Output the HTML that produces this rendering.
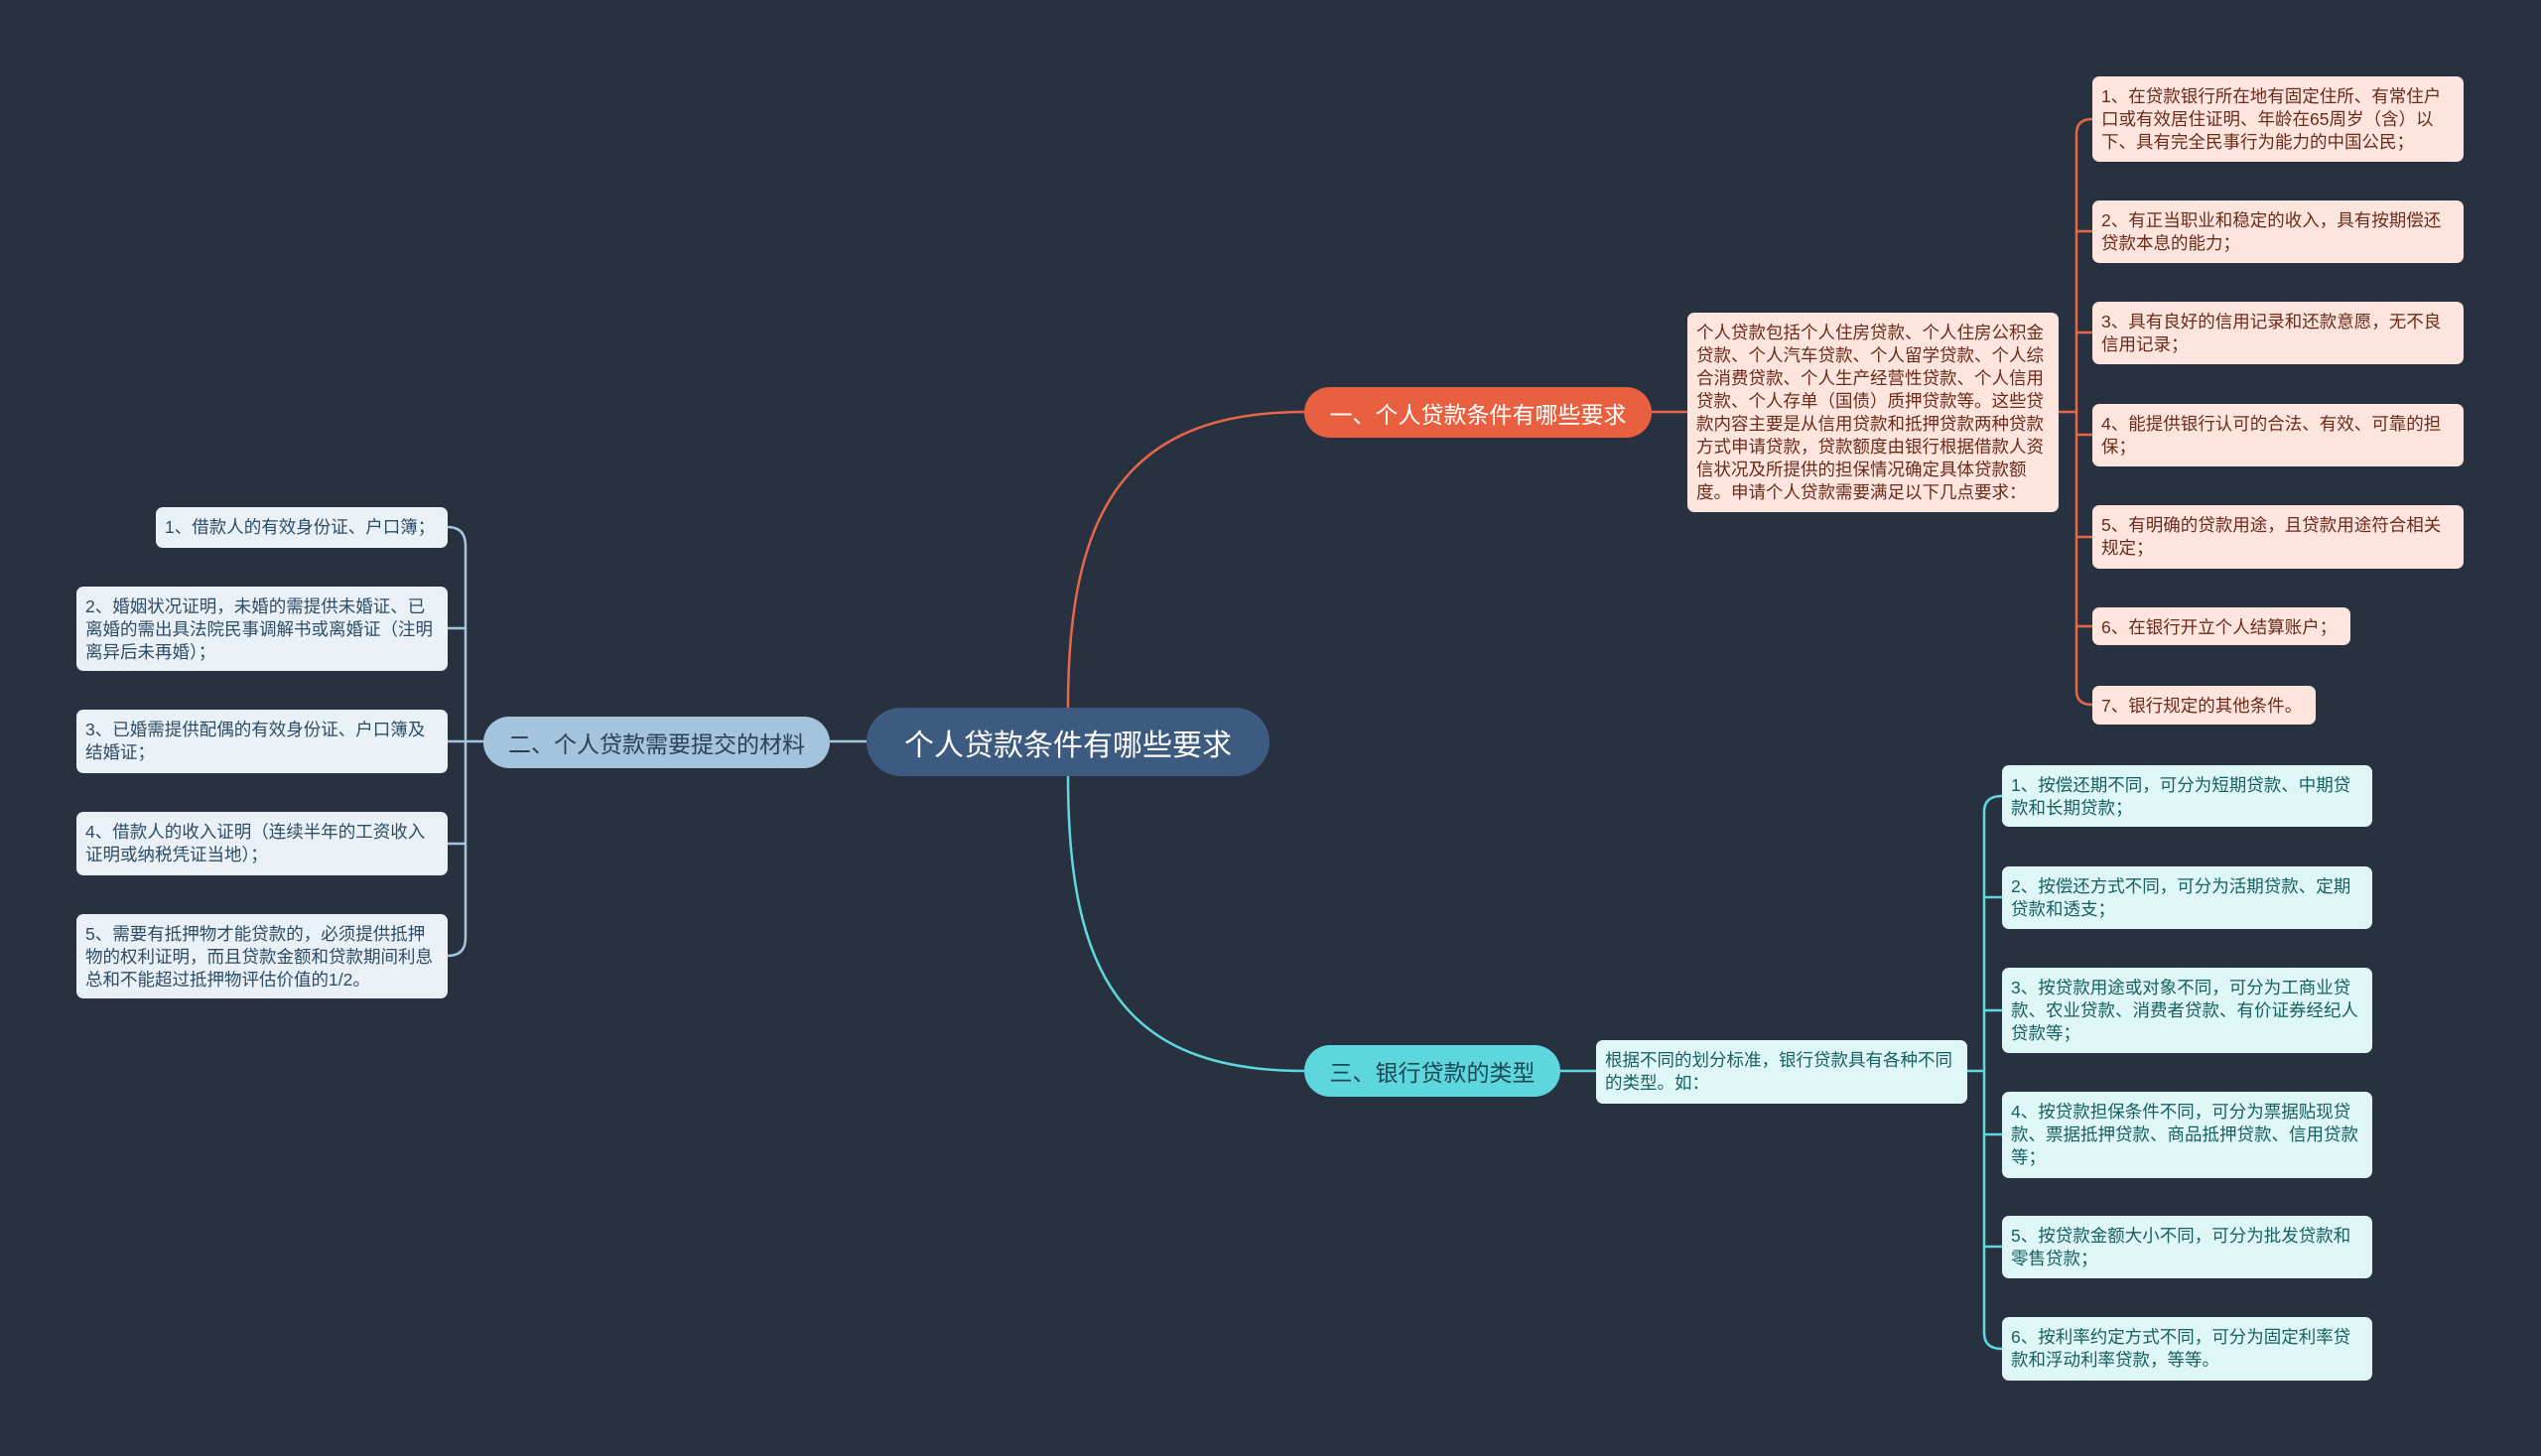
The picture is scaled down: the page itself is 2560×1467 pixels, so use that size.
<!DOCTYPE html>
<html><head><meta charset="utf-8"><style>
body{margin:0;width:2560px;height:1467px;background:#283140;position:relative;overflow:hidden;font-family:"Liberation Sans","Noto Sans CJK SC",sans-serif}
.b{position:absolute;box-sizing:border-box;border-radius:7px;font-size:17.5px;line-height:23px;padding:9px 9px}
.p{background:#fde5dd;color:#6b2a1a}
.l{background:#e9f1f6;color:#2e4c66}
.c{background:#dff6f7;color:#17605f}
.n{position:absolute;box-sizing:border-box;border-radius:26px;display:flex;align-items:center;justify-content:center;font-size:23px}
svg{position:absolute;left:0;top:0}
</style></head><body>
<svg width="2560" height="1467" fill="none" stroke-width="2.5">
<path d="M1076 713 C1076 520 1130 415 1314 415" stroke="#e8674a"/>
<path d="M1076 782 C1076 980 1130 1079 1314 1079" stroke="#5fd8df"/>
<path d="M836 747 L873 747" stroke="#a6c6de"/>
<path d="M1664 415 L1700 415 M2074 415 L2092 415" stroke="#e8674a"/>
<path d="M2108 120 Q2092 120 2092 135 L2092 696 Q2092 710 2108 710 M2092 233 Q2092 233 2108 233 M2092 335 L2108 335 M2092 438 L2108 438 M2092 541 L2108 541 M2092 631 L2108 631" stroke="#e8674a"/>
<path d="M487 747 L469 747 M451 531 Q469 531 469 550 L469 945 Q469 963 451 963 M451 633 L469 633 M451 747 L469 747 M451 850 L469 850" stroke="#a6c6de"/>
<path d="M1572 1079 L1608 1079 M1982 1079 L1999 1079" stroke="#5fd8df"/>
<path d="M2017 802 Q1999 802 1999 818 L1999 1343 Q1999 1359 2017 1359 M1999 904 L2017 904 M1999 1018 L2017 1018 M1999 1143 L2017 1143 M1999 1256 L2017 1256" stroke="#5fd8df"/>
</svg>
<div class="n" style="left:873px;top:713px;width:406px;height:69px;background:#3d5a80;color:#fff;border-radius:35px;font-size:30px">个人贷款条件有哪些要求</div>
<div class="n" style="left:1314px;top:390px;width:350px;height:51px;background:#e8603f;color:#fff">一、个人贷款条件有哪些要求</div>
<div class="n" style="left:487px;top:722px;width:349px;height:52px;background:#a3c4dc;color:#2a3f55">二、个人贷款需要提交的材料</div>
<div class="n" style="left:1314px;top:1053px;width:258px;height:52px;background:#5dd6dd;color:#1b4a55">三、银行贷款的类型</div>

<div class="b p" style="left:1700px;top:315px;width:374px;height:201px">个人贷款包括个人住房贷款、个人住房公积金贷款、个人汽车贷款、个人留学贷款、个人综合消费贷款、个人生产经营性贷款、个人信用贷款、个人存单（国债）质押贷款等。这些贷款内容主要是从信用贷款和抵押贷款两种贷款方式申请贷款，贷款额度由银行根据借款人资信状况及所提供的担保情况确定具体贷款额度。申请个人贷款需要满足以下几点要求：</div>
<div class="b p" style="left:2108px;top:77px;width:374px;height:86px">1、在贷款银行所在地有固定住所、有常住户口或有效居住证明、年龄在65周岁（含）以下、具有完全民事行为能力的中国公民；</div>
<div class="b p" style="left:2108px;top:202px;width:374px;height:63px">2、有正当职业和稳定的收入，具有按期偿还贷款本息的能力；</div>
<div class="b p" style="left:2108px;top:304px;width:374px;height:63px">3、具有良好的信用记录和还款意愿，无不良信用记录；</div>
<div class="b p" style="left:2108px;top:407px;width:374px;height:63px">4、能提供银行认可的合法、有效、可靠的担保；</div>
<div class="b p" style="left:2108px;top:509px;width:374px;height:64px">5、有明确的贷款用途，且贷款用途符合相关规定；</div>
<div class="b p" style="left:2108px;top:612px;width:260px;height:38px">6、在银行开立个人结算账户；</div>
<div class="b p" style="left:2108px;top:691px;width:225px;height:39px">7、银行规定的其他条件。</div>

<div class="b l" style="left:157px;top:511px;width:294px;height:41px">1、借款人的有效身份证、户口簿；</div>
<div class="b l" style="left:77px;top:591px;width:374px;height:85px">2、婚姻状况证明，未婚的需提供未婚证、已离婚的需出具法院民事调解书或离婚证（注明离异后未再婚）；</div>
<div class="b l" style="left:77px;top:715px;width:374px;height:64px">3、已婚需提供配偶的有效身份证、户口簿及结婚证；</div>
<div class="b l" style="left:77px;top:818px;width:374px;height:64px">4、借款人的收入证明（连续半年的工资收入证明或纳税凭证当地）；</div>
<div class="b l" style="left:77px;top:921px;width:374px;height:85px">5、需要有抵押物才能贷款的，必须提供抵押物的权利证明，而且贷款金额和贷款期间利息总和不能超过抵押物评估价值的1/2。</div>

<div class="b c" style="left:1608px;top:1048px;width:374px;height:64px">根据不同的划分标准，银行贷款具有各种不同的类型。如：</div>
<div class="b c" style="left:2017px;top:771px;width:373px;height:62px">1、按偿还期不同，可分为短期贷款、中期贷款和长期贷款；</div>
<div class="b c" style="left:2017px;top:873px;width:373px;height:63px">2、按偿还方式不同，可分为活期贷款、定期贷款和透支；</div>
<div class="b c" style="left:2017px;top:975px;width:373px;height:86px">3、按贷款用途或对象不同，可分为工商业贷款、农业贷款、消费者贷款、有价证券经纪人贷款等；</div>
<div class="b c" style="left:2017px;top:1100px;width:373px;height:87px">4、按贷款担保条件不同，可分为票据贴现贷款、票据抵押贷款、商品抵押贷款、信用贷款等；</div>
<div class="b c" style="left:2017px;top:1225px;width:373px;height:63px">5、按贷款金额大小不同，可分为批发贷款和零售贷款；</div>
<div class="b c" style="left:2017px;top:1327px;width:373px;height:64px">6、按利率约定方式不同，可分为固定利率贷款和浮动利率贷款，等等。</div>
</body></html>
